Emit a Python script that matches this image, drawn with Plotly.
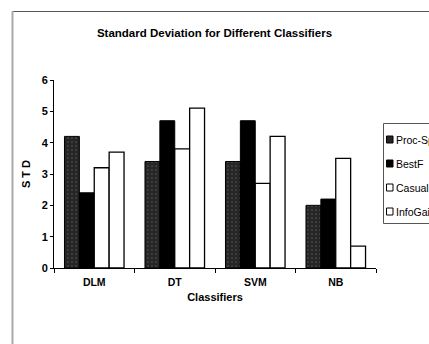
import plotly.graph_objects as go

categories = ["DLM", "DT", "SVM", "NB"]
series_names = ["Proc-Spec", "BestF", "Casual", "InfoGain"]
proc_spec = [4.2, 3.4, 3.4, 2.0]
bestf = [2.4, 4.7, 4.7, 2.2]
casual = [3.2, 3.8, 2.7, 3.5]
infogain = [3.7, 5.1, 4.2, 0.7]
y_ticks = [0, 1, 2, 3, 4, 5, 6]

W, H = 429, 344
ML, MR, MT, MB = 54, 53, 80, 76
PW, PH = W - ML - MR, H - MT - MB

def px(x):
    return (x - ML) / PW

def py(y):
    return (H - MB - y) / PH

FONT = "Liberation Sans, Arial, sans-serif"

styles = [
    dict(color="#262626", line=dict(color="#000", width=1),
         pattern=dict(shape=".", fgcolor="#808080", size=4, solidity=0.15)),
    dict(color="#000000", line=dict(color="#000", width=1)),
    dict(color="#ffffff", line=dict(color="#000", width=1.3)),
    dict(color="#ffffff", line=dict(color="#000", width=1.3)),
]
values = [proc_spec, bestf, casual, infogain]

fig = go.Figure()
for name, vals, st in zip(series_names, values, styles):
    fig.add_trace(go.Bar(x=categories, y=vals, name=name, marker=st, showlegend=False))

shapes = []
annotations = []
# outer frame lines
shapes.append(dict(type="line", xref="paper", yref="paper", x0=px(12), x1=px(440), y0=py(11.5), y1=py(11.5),
                   line=dict(color="#555", width=1)))
shapes.append(dict(type="line", xref="paper", yref="paper", x0=px(12.5), x1=px(12.5), y0=py(11), y1=py(350),
                   line=dict(color="#aaa", width=2)))
# manual legend (clipped at right edge as in the original)
shapes.append(dict(type="rect", xref="paper", yref="paper", x0=px(383.5), x1=px(460), y0=py(123.5), y1=py(223.5),
                   line=dict(color="#555", width=1), fillcolor="white"))
item_y = [139.5, 163.5, 187.5, 211.5]
sw_fill = ["#262626", "#000000", "#ffffff", "#ffffff"]
for name, yy, fc in zip(series_names, item_y, sw_fill):
    shapes.append(dict(type="rect", xref="paper", yref="paper", x0=px(386.5), x1=px(393), y0=py(yy - 3.5), y1=py(yy + 3.5),
                       line=dict(color="#000", width=1), fillcolor=fc))
    annotations.append(dict(text=name, xref="paper", yref="paper", x=px(394), y=py(yy), xanchor="left", yanchor="middle",
                            showarrow=False, font=dict(family=FONT, size=10.5, color="#000")))

bold11 = dict(family=FONT, size=11, color="#000", weight="bold")

fig.update_layout(
    width=W, height=H,
    margin=dict(l=ML, r=MR, t=MT, b=MB),
    paper_bgcolor="white", plot_bgcolor="white",
    barmode="group", bargap=0.26, bargroupgap=0,
    title=dict(text="Standard Deviation for Different Classifiers", x=0.5, xanchor="center",
               y=1 - 33 / H, yanchor="middle", font=dict(family=FONT, size=11.5, color="#000", weight="bold")),
    font=dict(family=FONT, color="#000"),
    shapes=shapes, annotations=annotations,
    xaxis=dict(showline=True, linecolor="#000", linewidth=1, ticks="outside", ticklen=4, tickcolor="#000",
               tickson="boundaries", tickfont=dict(family=FONT, size=10.5, color="#000", weight="bold"),
               ticklabelstandoff=4,
               title=dict(text="Classifiers", font=bold11, standoff=6),
               showgrid=False, zeroline=False),
    yaxis=dict(range=[0, 6], tickvals=y_ticks, showline=True, linecolor="#000", linewidth=1, ticks="outside",
               ticklen=3, tickcolor="#000", showgrid=False, zeroline=False,
               tickfont=bold11,
               title=dict(text="S T D", font=bold11, standoff=8)),
)

fig.write_html("out.html")
